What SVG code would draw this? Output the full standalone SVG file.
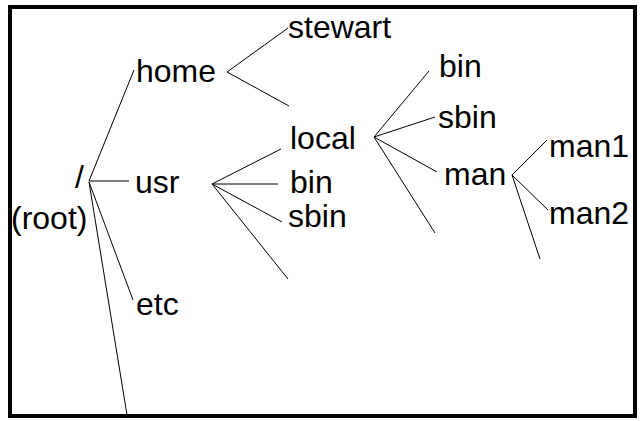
<svg xmlns="http://www.w3.org/2000/svg" width="640" height="421" viewBox="0 0 640 421">
<style>
text{font-family:"Liberation Sans",Arial,sans-serif;font-size:32px;fill:#000}
.c line{stroke:#000;stroke-width:1;fill:none}
</style>
<rect x="0" y="0" width="640" height="421" fill="#fff"/>
<rect x="10" y="7" width="625" height="409" fill="none" stroke="#000" stroke-width="4"/>
<g class="c" id="connectors">
<line x1="89" y1="181" x2="134" y2="70"/>
<line x1="89" y1="181" x2="129" y2="181"/>
<line x1="89" y1="182" x2="133" y2="300"/>
<line x1="89" y1="182" x2="127" y2="415"/>
<line x1="227" y1="72" x2="288" y2="28"/>
<line x1="227" y1="72" x2="289" y2="106"/>
<line x1="212" y1="184" x2="281" y2="149"/>
<line x1="212" y1="184" x2="278" y2="184"/>
<line x1="212" y1="184" x2="282" y2="222"/>
<line x1="212" y1="184" x2="288" y2="279"/>
<line x1="374" y1="137" x2="429" y2="71"/>
<line x1="374" y1="137" x2="435" y2="117"/>
<line x1="374" y1="137" x2="437" y2="172"/>
<line x1="374" y1="137" x2="435" y2="233"/>
<line x1="512" y1="175" x2="547" y2="140"/>
<line x1="512" y1="175" x2="548" y2="210"/>
<line x1="512" y1="175" x2="540" y2="259"/>
</g>
<g id="root"><text x="75" y="188">/</text><text x="11" y="229">(root)</text></g>
<g id="home"><text x="136" y="82">home</text></g>
<g id="stewart"><text x="288" y="38">stewart</text></g>
<g id="usr"><text x="135" y="193">usr</text></g>
<g id="etc"><text x="136" y="315">etc</text></g>
<g id="local"><text x="290" y="149">local</text></g>
<g id="usr-bin"><text x="290" y="193">bin</text></g>
<g id="usr-sbin"><text x="288" y="227">sbin</text></g>
<g id="local-bin"><text x="439" y="77">bin</text></g>
<g id="local-sbin"><text x="438" y="128">sbin</text></g>
<g id="man"><text x="444" y="185">man</text></g>
<g id="man1"><text x="549" y="157">man1</text></g>
<g id="man2"><text x="549" y="224">man2</text></g>
</svg>
